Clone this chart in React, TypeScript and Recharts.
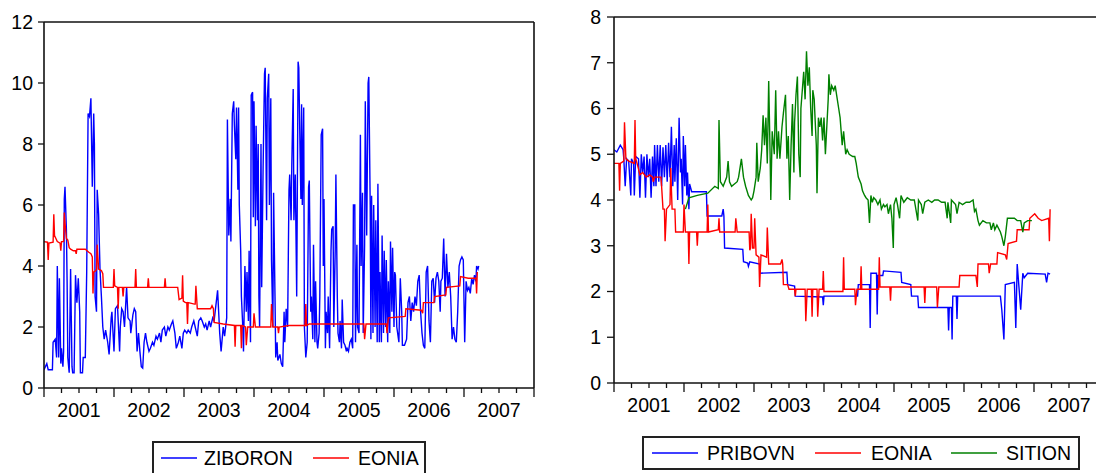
import React from "react";
import { LineChart, Line, XAxis, YAxis, ReferenceLine } from "recharts";

// [year, rate %]
const ZIBORON: [number, number][] = [
  [2001.00,0.6],[2001.04,0.8],[2001.06,0.6],[2001.12,0.6],[2001.13,1.5],[2001.16,1.6],[2001.18,1.0],[2001.19,4.0],[2001.21,1.0],[2001.22,3.6],[2001.24,0.8],[2001.25,1.3],[2001.27,0.7],[2001.28,1.2],[2001.29,6.2],[2001.30,6.6],[2001.32,5.2],[2001.33,3.5],[2001.34,1.0],[2001.36,0.5],[2001.38,3.9],[2001.40,0.7],[2001.41,0.5],[2001.43,0.5],[2001.45,3.7],[2001.47,2.8],[2001.49,3.6],[2001.51,2.5],[2001.52,0.5],[2001.55,0.5],[2001.56,1.0],[2001.59,1.0],[2001.61,3.8],[2001.63,9.0],[2001.65,8.9],[2001.67,9.5],[2001.69,6.6],[2001.71,9.0],[2001.72,8.0],[2001.73,3.0],[2001.75,2.5],[2001.76,6.5],[2001.78,5.7],[2001.80,3.9],[2001.82,3.0],[2001.84,2.0],[2001.86,1.6],[2001.88,1.9],[2001.91,1.5],[2001.93,1.1],[2001.96,2.3],[2001.97,2.5],
  [2002.00,1.2],[2002.02,2.6],[2002.05,2.7],[2002.08,1.2],[2002.09,2.0],[2002.11,2.6],[2002.13,2.5],[2002.15,2.0],[2002.18,3.3],[2002.20,2.3],[2002.23,2.2],[2002.24,1.8],[2002.27,2.4],[2002.29,2.6],[2002.31,2.5],[2002.33,1.2],[2002.35,1.8],[2002.37,1.2],[2002.39,0.7],[2002.41,0.65],[2002.43,1.5],[2002.45,1.8],[2002.47,1.5],[2002.50,1.2],[2002.52,1.3],[2002.55,1.5],[2002.57,1.4],[2002.60,1.7],[2002.62,1.6],[2002.65,1.8],[2002.67,1.5],[2002.69,1.9],[2002.72,2.0],[2002.74,1.7],[2002.77,2.0],[2002.79,1.9],[2002.82,2.1],[2002.84,2.2],[2002.87,1.8],[2002.89,1.3],[2002.92,1.5],[2002.94,1.7],[2002.97,1.3],[2002.99,1.8],
  [2003.01,1.9],[2003.04,1.8],[2003.06,1.9],[2003.09,1.8],[2003.11,2.0],[2003.14,2.2],[2003.16,2.0],[2003.19,1.7],[2003.21,2.2],[2003.24,2.3],[2003.26,2.2],[2003.29,2.0],[2003.31,2.1],[2003.33,1.9],[2003.36,2.2],[2003.38,2.0],[2003.41,2.3],[2003.43,2.2],[2003.46,2.8],[2003.48,3.2],[2003.51,1.8],[2003.53,1.2],[2003.56,2.0],[2003.58,1.7],[2003.61,2.3],[2003.62,8.8],[2003.64,5.0],[2003.66,6.2],[2003.67,4.8],[2003.69,9.0],[2003.71,9.4],[2003.72,8.6],[2003.74,7.5],[2003.75,9.2],[2003.77,6.5],[2003.78,9.2],[2003.79,6.0],[2003.81,4.5],[2003.82,3.0],[2003.84,2.0],[2003.85,1.2],[2003.87,4.0],[2003.89,2.5],[2003.90,3.8],[2003.92,2.2],[2003.93,4.5],[2003.95,1.5],[2003.96,9.6],[2003.98,9.7],[2003.99,5.6],
  [2004.00,9.4],[2004.02,5.3],[2004.03,8.6],[2004.05,5.5],[2004.06,8.0],[2004.07,3.0],[2004.08,2.0],[2004.10,8.0],[2004.11,3.3],[2004.13,7.2],[2004.15,10.3],[2004.16,10.5],[2004.18,5.5],[2004.19,9.5],[2004.21,10.3],[2004.22,6.0],[2004.24,9.5],[2004.25,4.2],[2004.27,2.0],[2004.28,6.4],[2004.30,3.0],[2004.31,1.0],[2004.33,1.5],[2004.34,0.9],[2004.37,1.1],[2004.39,0.8],[2004.41,0.7],[2004.43,2.5],[2004.44,1.5],[2004.46,2.6],[2004.48,2.0],[2004.50,6.5],[2004.51,7.0],[2004.53,5.5],[2004.54,7.3],[2004.56,9.8],[2004.57,5.5],[2004.59,7.0],[2004.61,3.0],[2004.63,10.7],[2004.64,10.5],[2004.66,7.5],[2004.67,6.2],[2004.68,9.3],[2004.69,6.0],[2004.71,9.2],[2004.72,2.0],[2004.74,1.0],[2004.76,1.5],[2004.78,6.6],[2004.79,6.8],[2004.81,2.5],[2004.82,3.0],[2004.84,1.6],[2004.85,4.7],[2004.87,1.5],[2004.88,3.5],[2004.90,1.5],[2004.91,1.3],[2004.93,1.8],[2004.94,3.0],[2004.96,8.3],[2004.98,8.5],[2004.99,4.0],
  [2005.00,6.2],[2005.02,1.3],[2005.03,2.5],[2005.05,1.8],[2005.06,3.0],[2005.08,1.3],[2005.10,4.5],[2005.11,5.2],[2005.13,5.3],[2005.14,2.0],[2005.16,4.5],[2005.17,7.0],[2005.19,3.0],[2005.20,1.8],[2005.22,1.5],[2005.23,2.2],[2005.25,1.3],[2005.26,2.9],[2005.28,1.5],[2005.30,1.4],[2005.32,1.2],[2005.33,1.3],[2005.35,1.2],[2005.37,1.5],[2005.39,1.6],[2005.41,1.3],[2005.42,6.0],[2005.44,6.0],[2005.45,1.5],[2005.47,4.7],[2005.48,2.0],[2005.50,1.8],[2005.52,8.3],[2005.53,4.0],[2005.55,6.4],[2005.56,1.8],[2005.58,4.7],[2005.59,9.4],[2005.61,5.0],[2005.63,10.0],[2005.64,10.2],[2005.66,6.0],[2005.67,1.6],[2005.68,6.3],[2005.70,1.8],[2005.71,6.0],[2005.73,2.0],[2005.74,5.5],[2005.76,1.5],[2005.77,6.7],[2005.79,1.5],[2005.80,3.8],[2005.82,1.5],[2005.83,5.0],[2005.85,1.8],[2005.86,4.5],[2005.88,2.0],[2005.89,4.2],[2005.91,1.5],[2005.92,3.5],[2005.94,1.8],[2005.95,4.8],[2005.97,2.5],[2005.98,4.6],
  [2006.00,2.0],[2006.01,3.8],[2006.02,3.7],[2006.04,2.0],[2006.07,1.5],[2006.09,3.6],[2006.11,2.5],[2006.12,1.4],[2006.15,1.4],[2006.18,1.6],[2006.20,2.8],[2006.22,3.0],[2006.24,2.2],[2006.26,2.8],[2006.28,2.5],[2006.30,3.0],[2006.32,2.7],[2006.34,3.5],[2006.36,3.7],[2006.38,2.5],[2006.40,1.8],[2006.42,1.4],[2006.44,1.3],[2006.46,3.8],[2006.48,4.0],[2006.50,2.2],[2006.52,1.5],[2006.54,3.5],[2006.56,3.6],[2006.58,2.8],[2006.60,3.6],[2006.62,3.8],[2006.64,3.5],[2006.66,2.5],[2006.67,3.5],[2006.69,3.6],[2006.71,4.9],[2006.73,3.0],[2006.75,4.4],[2006.77,3.3],[2006.79,3.8],[2006.81,3.0],[2006.83,1.6],[2006.85,2.0],[2006.87,1.6],[2006.89,1.5],[2006.91,2.5],[2006.93,4.0],[2006.95,4.2],[2006.97,4.3],[2006.99,4.2],
  [2007.01,1.5],[2007.03,3.5],[2007.05,3.2],[2007.07,3.3],[2007.09,3.1],[2007.11,3.6],[2007.13,3.4],[2007.15,3.7],[2007.17,3.5],[2007.18,4.0],[2007.20,3.9],[2007.21,4.0],
];

const EONIA_LEFT: [number, number][] = [
  [2001.00,4.8],[2001.05,4.78],[2001.06,4.2],[2001.07,4.75],[2001.13,4.78],[2001.14,5.7],[2001.15,5.0],[2001.17,4.9],[2001.19,4.8],[2001.23,4.75],[2001.24,4.5],[2001.25,4.8],[2001.28,4.8],[2001.29,5.75],[2001.30,5.4],[2001.32,4.9],[2001.34,4.85],[2001.36,4.6],[2001.38,4.55],[2001.42,4.5],[2001.45,4.5],[2001.46,4.4],[2001.47,4.55],[2001.59,4.55],[2001.64,4.45],[2001.67,4.4],[2001.69,4.3],[2001.70,3.1],[2001.71,3.8],[2001.74,3.85],[2001.75,3.9],[2001.76,4.7],[2001.78,3.9],[2001.82,3.85],[2001.84,3.75],[2001.85,3.3],[2001.99,3.3],
  [2002.00,3.9],[2002.01,3.35],[2002.05,3.3],[2002.06,2.6],[2002.07,3.3],[2002.12,3.3],[2002.13,3.0],[2002.14,3.3],[2002.30,3.3],[2002.31,3.9],[2002.32,3.3],[2002.48,3.3],[2002.49,3.6],[2002.50,3.3],[2002.72,3.3],[2002.73,3.6],[2002.74,3.3],[2002.91,3.3],[2002.93,2.9],[2002.97,2.95],[2002.98,3.7],[2002.99,2.85],
  [2003.02,2.8],[2003.04,2.8],[2003.05,2.1],[2003.06,2.8],[2003.15,2.75],[2003.16,2.75],[2003.17,3.35],[2003.19,2.6],[2003.38,2.6],[2003.40,2.7],[2003.42,2.6],[2003.43,2.15],[2003.56,2.1],[2003.72,2.05],[2003.73,1.35],[2003.74,2.05],[2003.81,2.05],[2003.82,1.3],[2003.83,2.05],[2003.88,2.0],[2003.89,1.4],[2003.91,2.0],[2003.99,2.0],
  [2004.00,2.45],[2004.02,2.0],[2004.24,2.0],[2004.25,2.75],[2004.27,2.0],[2004.34,2.0],[2004.35,1.8],[2004.36,2.0],[2004.50,2.05],[2004.73,2.05],[2004.74,2.75],[2004.75,2.05],[2004.79,2.1],
  [2005.43,2.1],[2005.57,2.1],[2005.58,1.6],[2005.60,2.1],[2005.89,2.1],[2005.90,1.8],[2005.91,2.1],[2005.92,2.3],
  [2006.16,2.35],[2006.17,2.6],[2006.39,2.55],[2006.41,2.45],[2006.42,2.8],[2006.57,2.8],[2006.58,3.0],[2006.74,3.05],[2006.75,3.3],[2006.94,3.35],[2006.95,3.65],
  [2007.06,3.6],[2007.17,3.6],[2007.18,3.1],[2007.19,3.8],
];

const PRIBOVN: [number, number][] = [
  [2001.00,5.1],[2001.04,5.05],[2001.09,5.2],[2001.13,5.1],[2001.14,4.9],[2001.16,4.3],[2001.18,4.9],[2001.21,4.85],[2001.24,4.1],[2001.25,4.9],[2001.28,4.8],[2001.29,4.1],[2001.31,4.95],[2001.35,4.9],[2001.37,4.05],[2001.39,5.0],[2001.41,4.6],[2001.43,4.95],[2001.45,4.05],[2001.47,5.0],[2001.49,4.5],[2001.51,4.9],[2001.53,4.05],[2001.55,4.95],[2001.57,4.3],[2001.58,5.2],[2001.60,4.3],[2001.62,5.2],[2001.64,4.4],[2001.66,5.2],[2001.68,4.3],[2001.70,5.15],[2001.72,4.5],[2001.74,5.2],[2001.76,4.4],[2001.78,5.25],[2001.80,4.5],[2001.82,5.6],[2001.84,4.3],[2001.86,5.2],[2001.87,4.4],[2001.89,5.35],[2001.91,4.0],[2001.93,5.8],[2001.95,4.6],[2001.96,4.9],[2001.98,3.9],[2001.99,5.4],
  [2002.01,4.3],[2002.02,5.2],[2002.04,4.1],[2002.05,4.6],[2002.07,3.8],[2002.08,4.35],[2002.11,4.18],[2002.32,4.18],[2002.33,3.65],[2002.54,3.65],[2002.56,3.8],[2002.57,3.65],[2002.58,2.95],[2002.84,2.92],[2002.85,2.65],[2002.91,2.62],[2002.92,2.55],[2002.94,2.65],
  [2003.08,2.6],[2003.09,2.4],[2003.47,2.42],[2003.48,2.15],[2003.58,2.12],[2003.59,1.9],[2003.98,1.88],[2003.99,1.7],
  [2004.00,1.9],[2004.48,1.9],[2004.49,2.15],[2004.65,2.15],[2004.66,1.2],[2004.67,2.4],[2004.75,2.4],[2004.76,1.5],[2004.77,2.35],[2004.84,2.35],[2004.85,2.45],
  [2005.10,2.42],[2005.11,2.2],[2005.24,2.15],[2005.25,1.9],[2005.34,1.9],[2005.35,1.65],[2005.77,1.65],[2005.78,1.15],[2005.79,1.65],[2005.82,1.65],[2005.83,0.95],[2005.84,1.9],[2005.89,1.9],[2005.90,1.4],[2005.91,1.9],
  [2006.52,1.9],[2006.54,1.6],[2006.57,0.95],[2006.59,2.15],[2006.72,2.2],[2006.74,1.2],[2006.76,2.6],[2006.79,2.0],[2006.81,1.6],[2006.84,2.4],[2006.86,2.3],[2006.91,2.4],
  [2007.16,2.38],[2007.18,2.2],[2007.20,2.4],[2007.23,2.38],
];

const EONIA_RIGHT: [number, number][] = [
  [2001.00,4.8],[2001.07,4.8],[2001.08,4.2],[2001.09,4.8],[2001.14,4.85],[2001.15,5.7],[2001.17,4.9],[2001.21,4.85],[2001.29,4.8],[2001.30,5.75],[2001.31,4.9],[2001.33,4.8],[2001.37,4.55],[2001.41,4.6],[2001.46,4.5],[2001.51,4.55],[2001.55,4.5],[2001.56,4.4],[2001.58,4.5],[2001.67,4.5],[2001.68,4.3],[2001.70,3.8],[2001.72,3.8],[2001.73,3.1],[2001.75,3.8],[2001.80,3.9],[2001.81,4.7],[2001.83,3.8],[2001.87,3.8],[2001.88,3.3],[2001.99,3.3],
  [2002.00,3.9],[2002.02,3.3],[2002.06,3.3],[2002.07,2.6],[2002.08,3.3],[2002.18,3.3],[2002.19,3.0],[2002.20,3.3],[2002.33,3.3],[2002.34,3.9],[2002.35,3.3],[2002.49,3.35],[2002.50,3.6],[2002.51,3.3],[2002.73,3.3],[2002.74,3.6],[2002.76,3.3],[2002.93,3.3],[2002.94,2.9],[2002.95,2.95],[2002.96,3.7],[2002.98,2.95],
  [2003.00,2.95],[2003.01,3.6],[2003.03,2.8],[2003.07,2.75],[2003.08,2.1],[2003.10,2.8],[2003.18,2.75],[2003.19,3.4],[2003.21,2.6],[2003.38,2.6],[2003.40,2.7],[2003.41,2.6],[2003.42,2.15],[2003.48,2.15],[2003.50,2.05],[2003.58,2.05],[2003.59,1.9],[2003.60,2.05],[2003.73,2.05],[2003.74,1.35],[2003.76,2.05],[2003.82,2.05],[2003.83,1.45],[2003.84,2.05],[2003.90,2.05],[2003.91,1.45],[2003.93,2.05],[2003.98,2.05],[2003.99,2.45],
  [2004.00,2.0],[2004.27,2.0],[2004.28,2.75],[2004.29,2.05],[2004.44,2.05],[2004.45,1.7],[2004.47,2.05],[2004.52,2.05],[2004.53,2.55],[2004.54,2.05],[2004.78,2.05],[2004.79,2.75],[2004.80,2.1],[2004.94,2.1],[2004.95,1.8],[2004.96,2.1],
  [2005.43,2.1],[2005.44,1.75],[2005.45,2.1],[2005.61,2.1],[2005.62,1.65],[2005.64,2.1],[2005.93,2.1],[2005.94,2.35],
  [2006.17,2.35],[2006.19,2.1],[2006.20,2.6],[2006.35,2.6],[2006.36,2.4],[2006.38,2.6],[2006.47,2.6],[2006.48,2.85],[2006.59,2.8],[2006.61,2.7],[2006.63,3.05],[2006.75,3.1],[2006.76,3.35],[2006.93,3.35],[2006.94,3.6],
  [2007.01,3.7],[2007.06,3.6],[2007.11,3.55],[2007.21,3.6],[2007.22,3.1],[2007.23,3.8],
];

const SITION: [number, number][] = [
  [2002.02,3.8],[2002.07,4.05],[2002.19,4.1],[2002.34,4.15],[2002.44,4.3],[2002.49,4.25],[2002.50,5.75],[2002.52,4.4],[2002.56,4.3],[2002.61,4.5],[2002.63,4.85],[2002.65,4.4],[2002.68,4.3],[2002.76,4.4],[2002.78,4.5],[2002.82,4.9],[2002.85,4.5],[2002.88,4.3],[2002.92,4.1],[2002.96,4.0],[2002.98,4.05],
  [2003.00,4.2],[2003.03,4.5],[2003.04,5.25],[2003.06,4.4],[2003.09,4.7],[2003.11,5.1],[2003.13,5.85],[2003.15,5.2],[2003.17,5.8],[2003.19,4.8],[2003.21,6.6],[2003.23,5.0],[2003.24,4.0],[2003.26,5.5],[2003.29,5.0],[2003.31,6.4],[2003.33,4.9],[2003.35,5.5],[2003.37,4.9],[2003.40,5.6],[2003.42,5.9],[2003.45,6.3],[2003.47,4.9],[2003.49,5.4],[2003.51,4.0],[2003.53,5.2],[2003.55,6.1],[2003.57,4.6],[2003.58,5.7],[2003.60,6.3],[2003.62,6.7],[2003.64,5.0],[2003.66,4.5],[2003.67,6.0],[2003.69,6.4],[2003.71,6.8],[2003.73,6.2],[2003.75,7.25],[2003.77,6.5],[2003.79,6.9],[2003.81,6.0],[2003.83,5.4],[2003.84,6.4],[2003.86,6.2],[2003.89,5.2],[2003.90,4.15],[2003.92,5.8],[2003.94,5.6],[2003.96,5.8],[2003.98,5.3],
  [2004.00,5.8],[2004.02,5.0],[2004.04,5.6],[2004.06,6.2],[2004.07,6.75],[2004.09,6.3],[2004.11,6.5],[2004.14,6.4],[2004.16,6.5],[2004.18,6.3],[2004.21,6.0],[2004.23,5.8],[2004.26,5.2],[2004.28,5.5],[2004.31,5.0],[2004.33,5.1],[2004.36,5.0],[2004.41,4.95],[2004.44,4.95],[2004.46,4.8],[2004.49,4.5],[2004.53,4.35],[2004.55,4.2],[2004.58,4.1],[2004.60,4.05],[2004.63,4.0],[2004.65,3.5],[2004.67,4.1],[2004.69,3.95],[2004.71,4.05],[2004.74,4.0],[2004.77,3.9],[2004.80,4.0],[2004.82,3.8],[2004.85,3.9],[2004.87,3.85],[2004.90,3.9],[2004.92,3.7],[2004.95,3.9],[2004.97,3.6],[2004.99,2.95],
  [2005.00,3.9],[2005.03,4.05],[2005.05,3.9],[2005.08,3.6],[2005.10,4.1],[2005.14,3.95],[2005.19,4.05],[2005.24,4.0],[2005.29,4.0],[2005.34,3.55],[2005.35,4.0],[2005.39,3.9],[2005.41,3.7],[2005.44,3.95],[2005.49,4.0],[2005.54,3.95],[2005.58,4.0],[2005.63,4.0],[2005.68,3.95],[2005.73,3.95],[2005.76,3.6],[2005.77,3.95],[2005.81,3.5],[2005.82,4.0],[2005.88,3.9],[2005.90,3.7],[2005.93,3.95],[2005.98,3.9],
  [2006.03,3.95],[2006.08,3.95],[2006.13,4.0],[2006.15,3.75],[2006.17,3.8],[2006.20,3.55],[2006.22,3.45],[2006.27,3.55],[2006.32,3.5],[2006.37,3.5],[2006.39,3.35],[2006.42,3.5],[2006.44,3.35],[2006.47,3.45],[2006.52,3.3],[2006.54,3.2],[2006.57,3.0],[2006.59,3.2],[2006.62,3.6],[2006.67,3.6],[2006.72,3.6],[2006.76,3.55],[2006.81,3.55],[2006.84,3.3],[2006.86,3.5],[2006.91,3.55],[2006.97,3.55],
];

const YEARS = [2001, 2002, 2003, 2004, 2005, 2006, 2007, 2008];
const LEFT_Y_TICKS = [0, 2, 4, 6, 8, 10, 12];
const RIGHT_Y_TICKS = [0, 1, 2, 3, 4, 5, 6, 7, 8];

const QUARTER_TICKS = YEARS.flatMap((y) => (y < 2008 ? [y, y + 0.25, y + 0.5, y + 0.75] : [y]));

const FONT = '"Liberation Sans", Arial, Helvetica, sans-serif';
const AXIS = "#111";

const toRows = (arr: [number, number][]) => arr.map(([t, v]) => ({ t, v }));

const YearTick = (props: any) => {
  const { x, y, payload } = props;
  const v: number = payload.value;
  const frac = v - Math.floor(v);
  const isYear = Math.abs(frac) < 1e-6;
  const isMid = Math.abs(frac - 0.5) < 1e-6;
  return (
    <g>
      <line x1={x} x2={x} y1={y} y2={y + (isYear ? 9 : 5)} stroke={AXIS} strokeWidth={1.3} />
      {isMid && (
        <text x={x} y={y + 29} textAnchor="middle" fontSize={19.5} fontFamily={FONT} fill="#000">
          {Math.floor(v)}
        </text>
      )}
    </g>
  );
};

const LegendBox = ({ items, left, top, width, lineStarts, lineLen, textStarts }: any) => (
  <svg
    width={width}
    height={34}
    style={{ position: "absolute", left, top, overflow: "visible" }}
  >
    <rect x={1} y={1} width={width - 2} height={32} fill="#fff" stroke="#222" strokeWidth={2} />
    {items.map((it: any, i: number) => (
      <g key={it.name}>
        <line x1={lineStarts[i]} x2={lineStarts[i] + lineLen} y1={17} y2={17} stroke={it.color} strokeWidth={1.5} />
        <text x={textStarts[i]} y={24} fontSize={19.5} fontFamily={FONT} fill="#000">
          {it.name}
        </text>
      </g>
    ))}
  </svg>
);

const xAxisProps = {
  type: "number" as const,
  dataKey: "t",
  domain: [2001, 2008],
  ticks: QUARTER_TICKS,
  interval: 0,
  allowDataOverflow: true,
  height: 30,
  tickLine: false,
  tickSize: 0,
  tickMargin: 0,
  axisLine: { stroke: AXIS, strokeWidth: 1.6 },
};

export default function App() {
  return (
    <div
      style={{
        position: "absolute",
        left: 0,
        top: 0,
        width: 1096,
        height: 473,
        overflow: "hidden",
        background: "#fff",
      }}
    >
      <div style={{ position: "absolute", left: 0, top: 0 }}>
        <LineChart width={545} height={473} margin={{ top: 22, right: 11, bottom: 55, left: 0 }}>
          <XAxis {...xAxisProps} tick={<YearTick />} />
          <YAxis
            type="number"
            domain={[0, 12]}
            ticks={LEFT_Y_TICKS}
            interval={0}
            width={44}
            tickSize={6}
            tickMargin={5}
            tick={{ fontSize: 19.5, fill: "#000", fontFamily: FONT }}
            tickLine={{ stroke: AXIS, strokeWidth: 1.3 }}
            axisLine={{ stroke: AXIS, strokeWidth: 1.6 }}
          />
          <ReferenceLine y={12} stroke={AXIS} strokeWidth={1.6} />
          <ReferenceLine x={2008} stroke={AXIS} strokeWidth={1.6} />
          <Line data={toRows(ZIBORON)} dataKey="v" type="linear" stroke="#0000ff" strokeWidth={1.4} dot={false} isAnimationActive={false} />
          <Line data={toRows(EONIA_LEFT)} dataKey="v" type="linear" stroke="#ff0000" strokeWidth={1.4} dot={false} isAnimationActive={false} />
        </LineChart>
      </div>

      <div style={{ position: "absolute", left: 560, top: 0 }}>
        <LineChart width={560} height={473} margin={{ top: 17, right: 16, bottom: 60, left: 0 }}>
          <XAxis {...xAxisProps} tick={<YearTick />} />
          <YAxis
            type="number"
            domain={[0, 8]}
            ticks={RIGHT_Y_TICKS}
            interval={0}
            width={54}
            tickSize={7}
            tickMargin={6}
            tick={{ fontSize: 19.5, fill: "#000", fontFamily: FONT }}
            tickLine={{ stroke: AXIS, strokeWidth: 1.3 }}
            axisLine={{ stroke: AXIS, strokeWidth: 1.6 }}
          />
          <ReferenceLine y={8} stroke={AXIS} strokeWidth={1.6} />
          <ReferenceLine x={2008} stroke={AXIS} strokeWidth={1.6} />
          <Line data={toRows(PRIBOVN)} dataKey="v" type="linear" stroke="#0000ff" strokeWidth={1.4} dot={false} isAnimationActive={false} />
          <Line data={toRows(EONIA_RIGHT)} dataKey="v" type="linear" stroke="#ff0000" strokeWidth={1.4} dot={false} isAnimationActive={false} />
          <Line data={toRows(SITION)} dataKey="v" type="linear" stroke="#008000" strokeWidth={1.4} dot={false} isAnimationActive={false} />
        </LineChart>
      </div>

      <LegendBox
        left={152}
        top={441}
        width={274}
        items={[
          { name: "ZIBORON", color: "#0000ff" },
          { name: "EONIA", color: "#ff0000" },
        ]}
        lineStarts={[9, 161]}
        lineLen={36}
        textStarts={[52, 206]}
      />
      <LegendBox
        left={642}
        top={436}
        width={438}
        items={[
          { name: "PRIBOVN", color: "#0000ff" },
          { name: "EONIA", color: "#ff0000" },
          { name: "SITION", color: "#008000" },
        ]}
        lineStarts={[10, 173, 309]}
        lineLen={46}
        textStarts={[65, 229, 364]}
      />
    </div>
  );
}
